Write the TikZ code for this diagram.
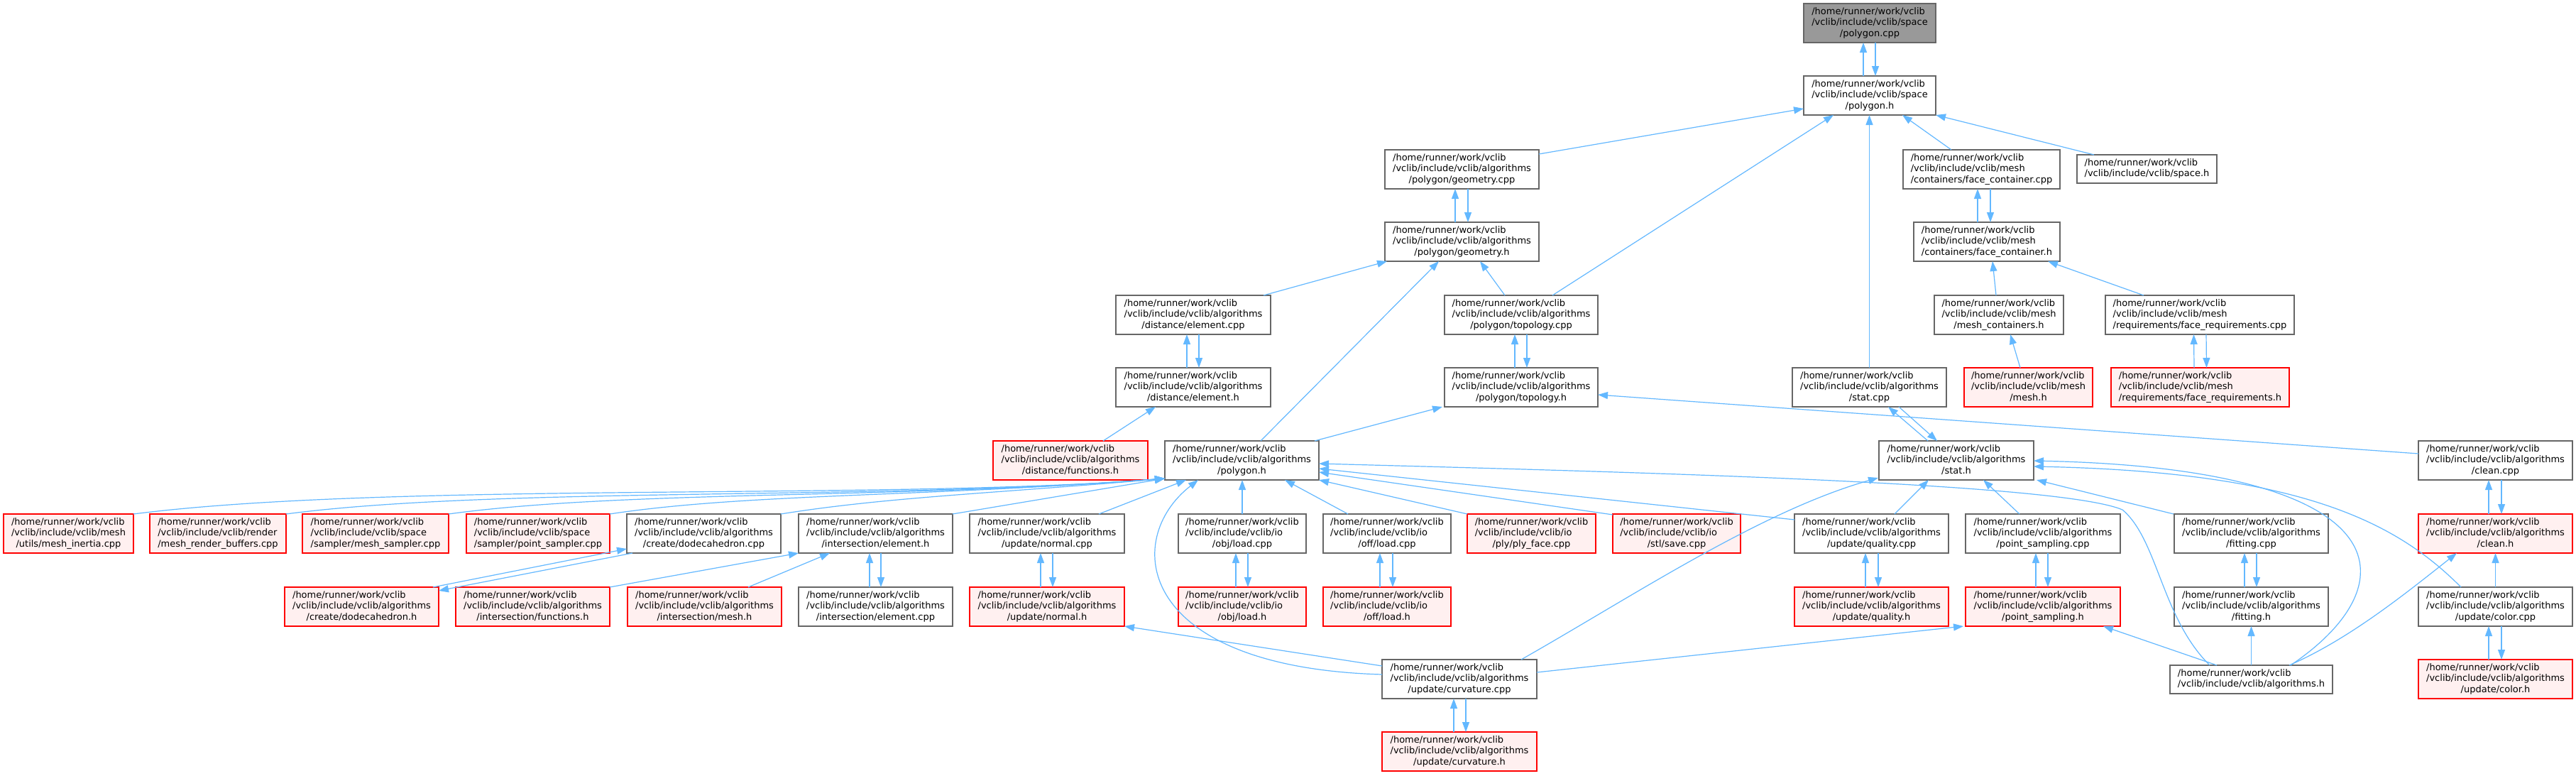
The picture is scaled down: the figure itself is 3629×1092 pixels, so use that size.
\documentclass[tikz,border=0pt]{standalone}
\usepackage{fontspec}
\setmainfont{DejaVu Sans}
\usetikzlibrary{arrows.meta,calc}
\definecolor{edgeblue}{HTML}{63B8FF}
\definecolor{boxgray}{HTML}{666666}
\definecolor{mainfill}{HTML}{999999}
\definecolor{redfill}{HTML}{FFF0F0}
\newcommand\vlab[2]{\begin{tabular}{@{}l@{}}/home/runner/work/vclib\\#1\\\multicolumn{1}{@{}c@{}}{#2}\end{tabular}}
\newcommand\vlabb[1]{\begin{tabular}{@{}l@{}}/home/runner/work/vclib\\\multicolumn{1}{@{}c@{}}{#1}\end{tabular}}
\newcommand\cycpair[4]{%
  \draw[edge] ($(#2.north)+(#3,0)$) -- ($(#1.south)+(#3,0)$);
  \draw[edge] ($(#1.south)+(#4,0)$) -- ($(#2.north)+(#4,0)$);}
\tikzset{
  every node/.style={font=\fontsize{13pt}{15.6pt}\selectfont, inner sep=0pt, outer sep=0pt},
  nbox/.style={draw=boxgray, fill=white, line width=1.2pt, minimum height=55pt, minimum width=#1},
  rbox/.style={draw=red, fill=redfill, line width=1.2pt, minimum height=55pt, minimum width=#1},
  mbox/.style={draw=boxgray, fill=mainfill, line width=1.2pt, minimum height=55pt, minimum width=#1},
  edge/.style={draw=edgeblue, line width=1.2pt, -{Triangle[length=14pt,width=10pt]}},
}
\def\alg{/vclib/include/vclib/algorithms}
\def\msh{/vclib/include/vclib/mesh}
\def\spc{/vclib/include/vclib/space}
\def\io{/vclib/include/vclib/io}
\begin{document}
\begin{tikzpicture}[x=1pt,y=-1pt]
\fill[white] (0,0) rectangle (3629,1092);
\useasboundingbox (0,0) rectangle (3629,1092);
% row 0
\node[mbox=186pt] (pcpp) at (2634,32.5) {\vlab{\spc}{/polygon.cpp}};
% row 1
\node[nbox=186pt] (ph) at (2634,134.5) {\vlab{\spc}{/polygon.h}};
% row 2
\node[nbox=217pt] (gcpp) at (2059.5,238.5) {\vlab{\alg}{/polygon/geometry.cpp}};
\node[nbox=221pt] (fccpp) at (2791.5,238.5) {\vlab{\msh}{/containers/face\_container.cpp}};
\node[nbox=197pt, minimum height=40pt] (spaceh) at (3024.5,238) {\vlabb{/vclib/include/vclib/space.h}};
% row 3
\node[nbox=217pt] (gh) at (2059.5,340.5) {\vlab{\alg}{/polygon/geometry.h}};
\node[nbox=206pt] (fch) at (2799,340.5) {\vlab{\msh}{/containers/face\_container.h}};
% row 4
\node[nbox=218pt] (ecpp) at (1681,443.5) {\vlab{\alg}{/distance/element.cpp}};
\node[nbox=216pt] (tcpp) at (2143,443.5) {\vlab{\alg}{/polygon/topology.cpp}};
\node[nbox=182pt] (mch) at (2816,443.5) {\vlab{\msh}{/mesh\_containers.h}};
\node[nbox=266pt] (frcpp) at (3099,443.5) {\vlab{\msh}{/requirements/face\_requirements.cpp}};
% row 5
\node[nbox=218pt] (eh) at (1681,545.5) {\vlab{\alg}{/distance/element.h}};
\node[nbox=216pt] (th) at (2143,545.5) {\vlab{\alg}{/polygon/topology.h}};
\node[nbox=217pt] (statcpp) at (2633.5,545.5) {\vlab{\alg}{/stat.cpp}};
\node[rbox=181pt] (meshh) at (2857.5,545.5) {\vlab{\msh}{/mesh.h}};
\node[rbox=251pt] (frh) at (3099.5,545.5) {\vlab{\msh}{/requirements/face\_requirements.h}};
% row 6
\node[rbox=218pt] (dfh) at (1508,648.5) {\vlab{\alg}{/distance/functions.h}};
\node[nbox=217pt] (aph) at (1749.5,648.5) {\vlab{\alg}{/polygon.h}};
\node[nbox=218pt] (stath) at (2756,648.5) {\vlab{\alg}{/stat.h}};
\node[nbox=217pt] (cleancpp) at (3515.5,648.5) {\vlab{\alg}{/clean.cpp}};
% row 7
\node[rbox=183pt] (inertia) at (96.5,751.5) {\vlab{\msh}{/utils/mesh\_inertia.cpp}};
\node[rbox=192pt] (renderbuf) at (307,751.5) {\vlab{/vclib/include/vclib/render}{/mesh\_render\_buffers.cpp}};
\node[rbox=206pt] (meshsampler) at (529,751.5) {\vlab{\spc}{/sampler/mesh\_sampler.cpp}};
\node[rbox=202pt] (pointsampler) at (758,751.5) {\vlab{\spc}{/sampler/point\_sampler.cpp}};
\node[nbox=217pt] (dodecpp) at (991.5,751.5) {\vlab{\alg}{/create/dodecahedron.cpp}};
\node[nbox=217pt] (iseh) at (1233.5,751.5) {\vlab{\alg}{/intersection/element.h}};
\node[nbox=218pt] (normalcpp) at (1475,751.5) {\vlab{\alg}{/update/normal.cpp}};
\node[nbox=180pt] (objcpp) at (1750,751.5) {\vlab{\io}{/obj/load.cpp}};
\node[nbox=180pt] (offcpp) at (1954,751.5) {\vlab{\io}{/off/load.cpp}};
\node[rbox=181pt] (plycpp) at (2157.5,751.5) {\vlab{\io}{/ply/ply\_face.cpp}};
\node[rbox=180pt] (stlcpp) at (2362,751.5) {\vlab{\io}{/stl/save.cpp}};
\node[nbox=217pt] (qualcpp) at (2636.5,751.5) {\vlab{\alg}{/update/quality.cpp}};
\node[nbox=218pt] (pscpp) at (2878,751.5) {\vlab{\alg}{/point\_sampling.cpp}};
\node[nbox=217pt] (fitcpp) at (3171.5,751.5) {\vlab{\alg}{/fitting.cpp}};
\node[rbox=217pt] (cleanh) at (3515.5,751.5) {\vlab{\alg}{/clean.h}};
% row 8
\node[rbox=217pt] (dodeh) at (509.5,854.5) {\vlab{\alg}{/create/dodecahedron.h}};
\node[rbox=217pt] (isfh) at (750.5,854.5) {\vlab{\alg}{/intersection/functions.h}};
\node[rbox=217pt] (ismh) at (992.5,854.5) {\vlab{\alg}{/intersection/mesh.h}};
\node[nbox=217pt] (isecpp) at (1233.5,854.5) {\vlab{\alg}{/intersection/element.cpp}};
\node[rbox=218pt] (normalh) at (1475,854.5) {\vlab{\alg}{/update/normal.h}};
\node[rbox=180pt] (objh) at (1750,854.5) {\vlab{\io}{/obj/load.h}};
\node[rbox=180pt] (offh) at (1954,854.5) {\vlab{\io}{/off/load.h}};
\node[rbox=217pt] (qualh) at (2636.5,854.5) {\vlab{\alg}{/update/quality.h}};
\node[rbox=218pt] (psh) at (2878,854.5) {\vlab{\alg}{/point\_sampling.h}};
\node[nbox=217pt] (fith) at (3171.5,854.5) {\vlab{\alg}{/fitting.h}};
\node[nbox=217pt] (colorcpp) at (3515.5,854.5) {\vlab{\alg}{/update/color.cpp}};
% row 9
\node[nbox=218pt] (curvcpp) at (2056,956.5) {\vlab{\alg}{/update/curvature.cpp}};
\node[nbox=229pt, minimum height=40pt] (algh) at (3171.5,957) {\vlabb{/vclib/include/vclib/algorithms.h}};
\node[rbox=217pt] (colorh) at (3515.5,956.5) {\vlab{\alg}{/update/color.h}};
% row 10
\node[rbox=218pt] (curvh) at (2056,1058.5) {\vlab{\alg}{/update/curvature.h}};

% ---- edges ----
\cycpair{pcpp}{ph}{-9}{8}
\draw[edge] ($(gcpp.north east)+(0,6)$) -- ($(ph.west)+(0,18.5)$);
\draw[edge] ($(tcpp.north)+(44,0)$) -- ($(ph.south)+(-51,0)$);
\draw[edge] (statcpp.north) -- ($(ph.south)+(-0.5,0)$);
\draw[edge] ($(fccpp.north)+(-42.5,0)$) -- ($(ph.south)+(46,0)$);
\draw[edge] ($(spaceh.north west)+(24,0)$) -- (ph.south east);
\cycpair{gcpp}{gh}{-9.5}{8.5}
\draw[edge] ($(ecpp.north east)+(-10,0)$) -- ($(gh.south west)+(3,0)$);
\draw[edge] ($(aph.north)+(26.5,0)$) -- ($(gh.south)+(-32.5,0)$);
\draw[edge] ($(tcpp.north)+(-23,0)$) -- ($(gh.south)+(25.5,0)$);
\draw[edge] ($(fch.north)+(-13,0)$) -- ($(fccpp.south)+(-5.5,0)$);
\draw[edge] ($(fccpp.south)+(12.5,0)$) -- ($(fch.north)+(5,0)$);
\draw[edge] ($(mch.north)+(-4,0)$) -- ($(fch.south)+(8,0)$);
\draw[edge] ($(frcpp.north)+(-79,0)$) -- ($(fch.south)+(86,0)$);
\draw[edge] ($(meshh.north)+(-11.5,0)$) -- ($(mch.south)+(16,0)$);
\cycpair{frcpp}{frh}{-8.5}{9}
\cycpair{ecpp}{eh}{-9}{8}
\draw[edge] ($(dfh.north)+(46,0)$) -- ($(eh.south)+(-53,0)$);
\cycpair{tcpp}{th}{-9}{8}
\draw[edge] ($(aph.north)+(102.5,0)$) -- ($(th.south west)+(-3,0)$);
\draw[edge] ($(cleancpp.west)+(0,-9.5)$) -- ($(th.east)+(0,10.5)$);
\draw[edge] ($(stath.north)+(-40,0)$) -- ($(statcpp.south)+(26.5,0)$);
\draw[edge] ($(statcpp.south)+(41.5,0)$) -- ($(stath.north)+(-27,0)$);
\draw[edge] ($(qualcpp.north)+(32.5,0)$) -- ($(stath.south)+(-39,0)$);
\draw[edge] ($(pscpp.north)+(-33,0)$) -- ($(stath.south)+(38,0)$);
\draw[edge] ($(fitcpp.north west)+(-1,0)$) -- ($(stath.south east)+(4,0)$);
\draw[edge] ($(algh.north)+(55.5,0)$) .. controls (3400,820) and (3380,660) .. ($(stath.east)+(0,0.5)$);
\draw[edge] ($(colorcpp.north west)+(60,0)$) .. controls (3380,740) and (3250,665) .. ($(stath.east)+(0,8.5)$);
\draw[edge] ($(algh.north)+(-58.5,0)$) .. controls (3045,870) and (3040,760) .. (2990,718) .. controls (2900,680) and (2300,665) .. ($(aph.east)+(0,4.5)$);
\draw[edge] ($(qualcpp.north west)+(0,8)$) -- ($(aph.east)+(0,11.5)$);
\draw[edge] ($(stlcpp.north west)+(0,1)$) -- ($(aph.east)+(0,16.5)$);
\draw[edge] (plycpp.north west) -- (aph.south east);
\draw[edge] ($(offcpp.north)+(-55,0)$) -- ($(aph.south)+(60.5,0)$);
\draw[edge] (objcpp.north) -- ($(aph.south)+(0.5,0)$);
\draw[edge] ($(normalcpp.north)+(73,0)$) -- ($(aph.south)+(-78.5,0)$);
\draw[edge] ($(curvcpp.west)+(0,-6.5)$) .. controls (1600,940) and (1580,760) .. ($(aph.south)+(-61.5,0)$);
\draw[edge] (iseh.north east) -- ($(aph.south west)+(0,-2)$);
\draw[edge] (inertia.north east) .. controls (550,678) and (1250,705) .. ($(aph.south west)+(0,-2)$);
\draw[edge] (renderbuf.north east) .. controls (700,685) and (1250,705) .. ($(aph.south west)+(0,-2)$);
\draw[edge] (meshsampler.north east) .. controls (880,690) and (1270,703) .. ($(aph.south west)+(0,-2)$);
\draw[edge] (pointsampler.north east) .. controls (1050,695) and (1300,700) .. ($(aph.south west)+(0,-2)$);
\draw[edge] (dodecpp.north east) .. controls (1250,700) and (1400,695) .. ($(aph.south west)+(0,-2)$);
\draw[edge] ($(dodeh.north east)+(-8,0)$) -- ($(dodecpp.south west)+(0,-6)$);
\draw[edge] ($(dodecpp.south west)+(8,0)$) -- ($(dodeh.north east)+(0,5)$);
\draw[edge] (isfh.north east) -- (iseh.south west);
\draw[edge] ($(ismh.north)+(61.5,0)$) -- ($(iseh.south)+(-64.5,0)$);
\cycpair{iseh}{isecpp}{-8.5}{7.5}
\cycpair{normalcpp}{normalh}{-9}{8}
\cycpair{objcpp}{objh}{-9}{8}
\cycpair{offcpp}{offh}{-10}{8}
\cycpair{qualcpp}{qualh}{-8.5}{9.5}
\cycpair{pscpp}{psh}{-10}{7}
\cycpair{fitcpp}{fith}{-9.5}{7.5}
\cycpair{cleancpp}{cleanh}{-9.5}{8.5}
\cycpair{colorcpp}{colorh}{-9.5}{8.5}
\cycpair{curvcpp}{curvh}{-8}{9}
\draw[edge] (colorcpp.north) -- (cleanh.south);
\draw[edge] (algh.north) -- (fith.south);
\draw[edge] ($(algh.north)+(-48.5,0)$) -- ($(psh.south)+(85,0)$);
\draw[edge] ($(algh.north)+(53.5,0)$) .. controls (3310,900) and (3390,835) .. ($(cleanh.south west)+(54,0)$);
\draw[edge] ($(curvcpp.east)+(0,-9.5)$) -- ($(psh.south west)+(-3,0)$);
\draw[edge] ($(curvcpp.north)+(87,0)$) .. controls (2300,840) and (2480,720) .. ($(stath.south west)+(-1,-3)$);
\draw[edge] ($(curvcpp.west)+(0,-18.5)$) -- (normalh.south east);
\end{tikzpicture}
\end{document}
